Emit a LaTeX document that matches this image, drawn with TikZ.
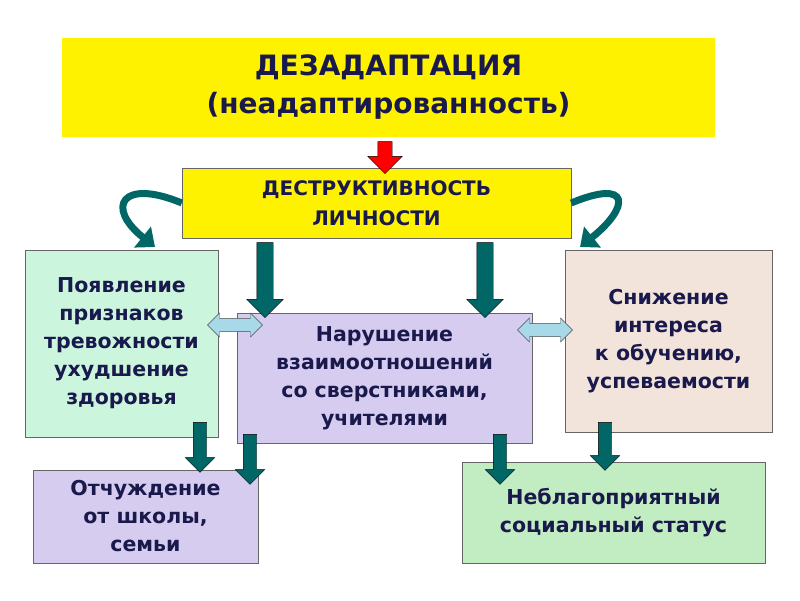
\documentclass[tikz,border=0pt]{standalone}
\usepackage{fontspec}
\setmainfont{DejaVu Sans}
\usetikzlibrary{shapes.arrows,arrows.meta,positioning}
\definecolor{ttl}{rgb}{0.10,0.10,0.30}
\definecolor{arr}{rgb}{0.00,0.40,0.40}
\definecolor{mint}{rgb}{0.80,0.96,0.87}
\definecolor{lav}{rgb}{0.84,0.80,0.94}
\definecolor{peach}{rgb}{0.95,0.89,0.86}
\definecolor{pale}{rgb}{0.76,0.93,0.76}
\definecolor{sky}{rgb}{0.66,0.85,0.91}
\begin{document}
\begin{tikzpicture}
    [x=1pt,y=-1pt,
      box/.style={draw=black!60,inner sep=0pt,align=center,font=\bfseries\fontsize{20.5}{28}\selectfont,text=ttl},
      downarr/.style={single arrow,draw=black,fill=arr,shape border rotate=270,inner sep=0pt,
        single arrow head extend=#1},
      dbl/.style={double arrow,draw=black!70,fill=sky,inner sep=0pt,minimum height=55pt,
        minimum width=24pt,double arrow head extend=5pt,text width=6pt,text height=12pt},
      curvearr/.style={line width=7pt,arr,-{Triangle[length=16pt,width=26pt]}}]
  \useasboundingbox (0,0) rectangle (800,600);

    \node [box,fill=yellow,draw=none,minimum width=653pt,minimum height=99pt,
      font=\bfseries\fontsize{28}{38}\selectfont] (title) at (388.5,87.5)
      {ДЕЗАДАПТАЦИЯ\\(неадаптированность)};

    \node [box,fill=yellow,minimum width=389pt,minimum height=70pt,
      font=\bfseries\fontsize{20}{30}\selectfont] (destr) at (376.5,203)
      {ДЕСТРУКТИВНОСТЬ\\ЛИЧНОСТИ};

    \node [box,fill=mint,minimum width=193pt,minimum height=187pt] (anx) at (121.5,343.5)
      {Появление\\признаков\\тревожности\\ухудшение\\здоровья};

    \node [box,fill=lav,minimum width=295pt,minimum height=130pt] (rel) at (384.5,378)
      {Нарушение\\взаимоотношений\\со сверстниками,\\учителями};

    \node [box,fill=peach,minimum width=207pt,minimum height=182pt] (int) at (668.5,341)
      {Снижение\\интереса\\к обучению,\\успеваемости};

    \node [box,fill=lav,minimum width=225pt,minimum height=93pt] (alien) at (145.5,516.5)
      {Отчуждение\\от школы,\\семьи};

    \node [box,fill=pale,minimum width=303pt,minimum height=101pt] (stat) at (613.5,512.5)
      {Неблагоприятный\\социальный статус};

    % block arrows
    \node [downarr=10pt,fill=red,minimum height=32pt,text width=14pt] (a0) at (385,154) {};
    \node [downarr=10pt,minimum height=75pt,text width=16pt] (a1) at (265,276) {};
    \node [downarr=10pt,minimum height=75pt,text width=16pt] (a2) at (485,276) {};
    \node [downarr=8pt,minimum height=50pt,text width=13pt] (a3) at (200,444) {};
    \node [downarr=8pt,minimum height=50pt,text width=13pt] (a4) at (250,456) {};
    \node [downarr=8pt,minimum height=50pt,text width=13pt] (a5) at (500,456) {};
    \node [downarr=8pt,minimum height=48pt,text width=13pt] (a6) at (605,443) {};

    \node [dbl] (d1) at (235,325) {};
    \node [dbl] (d2) at (545,330) {};

    \draw [curvearr] (destr.west) .. controls +(-60,-25) and +(-50,-40) .. (155,247);
    \draw [curvearr] (destr.east) .. controls +(60,-25) and +(50,-40) .. (580,247);
  \end{tikzpicture}
\end{document}
